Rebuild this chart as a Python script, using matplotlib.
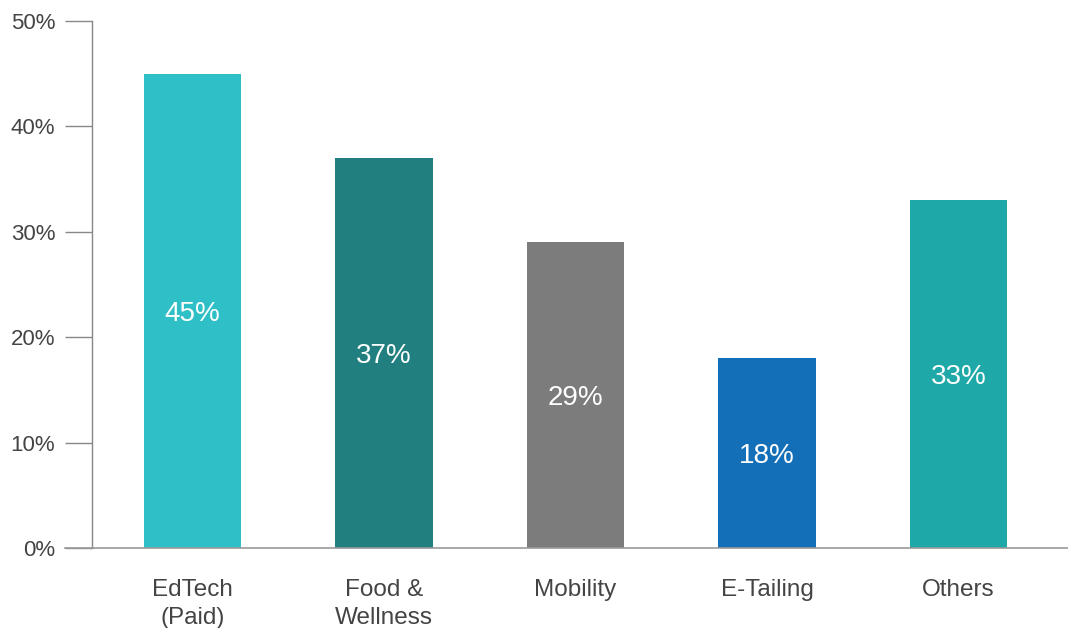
import numpy as np
import matplotlib.pyplot as plt

plt.rcParams['font.family'] = ['Liberation Sans', 'DejaVu Sans']

categories = ["EdTech\n(Paid)", "Food &\nWellness", "Mobility", "E-Tailing", "Others"]
values = [45, 37, 29, 18, 33]
colors = ["#2FBFC6", "#217F80", "#7B7C7B", "#136FB8", "#1EA8A8"]
yticks = [0, 10, 20, 30, 40, 50]

fig = plt.figure(figsize=(10.68, 6.28), dpi=100)
ax = fig.add_axes([92/1068, 80/628, 1 - 92/1068, (548 - 21)/628])

x = np.arange(len(categories))
bars = ax.bar(x, values, width=0.507, color=colors, zorder=2)

for b, v in zip(bars, values):
    ax.text(b.get_x() + b.get_width()/2, v/2 - 0.3, f"{v}%", ha="center", va="center",
            color="white", fontsize=20)

ax.set_xlim(-0.525, 4.572)
ax.set_ylim(0, 50)
ax.set_yticks(yticks)
ax.set_yticklabels([f"{t}%" for t in yticks])
ax.set_xticks(x)
ax.set_xticklabels(categories, linespacing=1.35)

for s in ["top", "right"]:
    ax.spines[s].set_visible(False)
ax.spines["left"].set_color("#888888")
ax.spines["bottom"].set_color("#999999")
ax.spines["left"].set_linewidth(1.0)
ax.spines["bottom"].set_linewidth(1.2)

ax.tick_params(axis="y", length=19.5, color="#888888", width=1.0, pad=7,
               labelsize=16, labelcolor="#444444")
ax.tick_params(axis="x", length=0, pad=22, labelsize=17.5, labelcolor="#444444")

# extend the zero line left under the tick marks
ax.plot([-0.525 - 27/191.5, -0.525], [0, 0], color="#999999", lw=1.2,
        clip_on=False, zorder=3)

plt.savefig("out.png", dpi=100)
